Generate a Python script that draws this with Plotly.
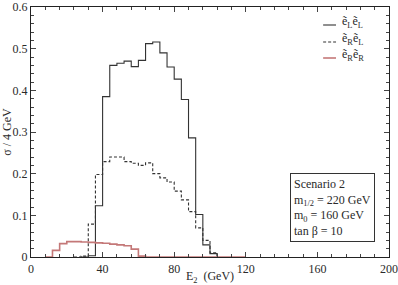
import plotly.graph_objects as go

# Bin left edges (GeV, 4 GeV bins) and cross sections per bin
eLeL_lo = [28, 32, 36, 40, 44, 48, 52, 56, 60, 64, 68, 72, 76, 80, 84, 88, 92, 96, 100, 104]
eLeL_val = [0.0, 0.003, 0.123, 0.385, 0.46, 0.465, 0.47, 0.457, 0.472, 0.512, 0.516, 0.49,
            0.456, 0.427, 0.378, 0.286, 0.102, 0.029, 0.008, 0.0]

eReL_lo = [24, 28, 32, 36, 40, 44, 48, 52, 56, 60, 64, 68, 72, 76, 80, 84, 88, 92, 96, 100, 104]
eReL_val = [0.0, 0.002, 0.079, 0.198, 0.229, 0.24, 0.24, 0.229, 0.225, 0.22, 0.226, 0.2,
            0.19, 0.18, 0.158, 0.137, 0.109, 0.07, 0.04, 0.01, 0.0]

eReR_lo = [8, 12, 16, 20, 24, 28, 32, 36, 40, 44, 48, 52, 56, 60, 64, 120]
eReR_val = [0.0, 0.016, 0.032, 0.037, 0.037, 0.036, 0.035, 0.034, 0.033, 0.031, 0.029,
            0.027, 0.019, 0.002, 0.0, 0.0]

series_names = ["ẽ<sub>L</sub>ẽ<sub>L</sub>", "ẽ<sub>R</sub>ẽ<sub>L</sub>", "ẽ<sub>R</sub>ẽ<sub>R</sub>"]

x_ticks = [0, 40, 80, 120, 160, 200]
y_ticks = [0, 0.1, 0.2, 0.3, 0.4, 0.5, 0.6]
y_ticklabels = ["0", "0.1", "0.2", "0.3", "0.4", "0.5", "0.6"]

FONT = "Liberation Serif"
INK = "#2a2a2a"
styles = [dict(color="#333333", width=1.1),
          dict(color="#333333", width=1.1, dash="3px,2px"),
          dict(color="#c47878", width=1.6)]

fig = go.Figure()
for xs, ys, nm, st in zip([eLeL_lo, eReL_lo, eReR_lo], [eLeL_val, eReL_val, eReR_val],
                          series_names, styles):
    fig.add_trace(go.Scatter(x=xs, y=ys, mode="lines", line_shape="hv", line=st,
                             name=nm, showlegend=False))

axis_common = dict(showgrid=False, zeroline=False, showline=True, linecolor="#222222",
                   linewidth=1.2, mirror="allticks", ticks="inside", ticklen=5,
                   tickcolor="#444444", automargin=False, ticklabeloverflow="allow",
                   tickfont=dict(family=FONT, size=12, color=INK))

fig.update_xaxes(range=[0, 200], tickvals=x_ticks, ticktext=[str(v) for v in x_ticks],
                 minor=dict(dtick=8, ticks="inside", ticklen=3, tickcolor="#444444", showgrid=False),
                 title=dict(text="E<sub>2</sub>  (GeV)", font=dict(family=FONT, size=12, color=INK), standoff=0),
                 **axis_common)
fig.update_yaxes(range=[0, 0.6], tickvals=y_ticks, ticktext=y_ticklabels,
                 minor=dict(dtick=0.02, ticks="inside", ticklen=3, tickcolor="#444444", showgrid=False),
                 title=dict(text="σ / 4 GeV", font=dict(family=FONT, size=12, color=INK), standoff=1),
                 **axis_common)

# Legend drawn as line samples + labels (compact, like the reference)
leg_rows = [0.928, 0.86, 0.796]
for nm, st, yr in zip(series_names, styles, leg_rows):
    fig.add_shape(type="line", xref="paper", yref="paper", x0=0.816, x1=0.852, y0=yr, y1=yr,
                  line=st)
    fig.add_annotation(xref="paper", yref="paper", x=0.862, y=yr + 0.012, xanchor="left",
                       yanchor="middle", showarrow=False, text=nm,
                       font=dict(family=FONT, size=12, color=INK))

fig.add_annotation(xref="paper", yref="paper", x=0.7235, y=0.336, xanchor="left", yanchor="top",
                   align="left", showarrow=False,
                   text="Scenario 2<br>m<sub>1/2</sub> = 220 GeV<br>m<sub>0</sub> = 160 GeV<br>tan β = 10",
                   font=dict(family=FONT, size=12, color=INK),
                   bordercolor="#333333", borderwidth=1, borderpad=3, bgcolor="white")

fig.update_layout(
    width=398, height=285,
    margin=dict(l=31, r=9, t=7, b=28),
    paper_bgcolor="white", plot_bgcolor="white",
    showlegend=False,
)

fig.write_html("out.html", config={"displayModeBar": False},
               post_script="document.body.style.margin='0';document.body.style.overflow='hidden';")
